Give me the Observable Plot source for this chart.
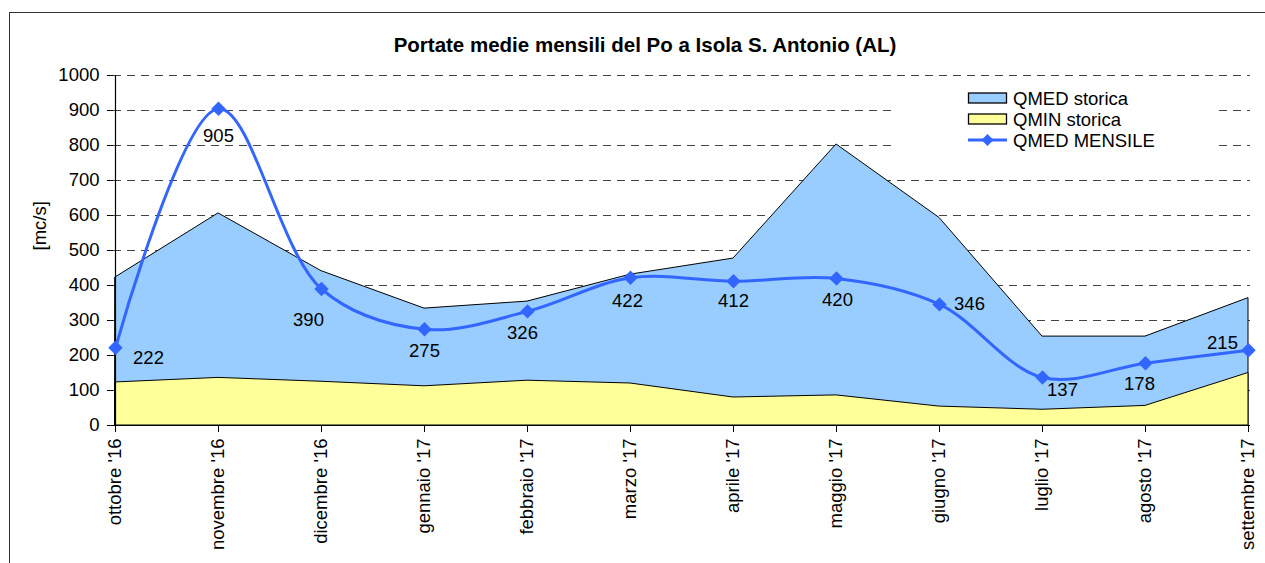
<!DOCTYPE html>
<html>
<head>
<meta charset="utf-8">
<script src="https://cdn.jsdelivr.net/npm/d3@7"></script>
<script src="https://cdn.jsdelivr.net/npm/@observablehq/plot@0.6"></script>
<style>
  body { margin: 0; background: #fff; }
  #wrap { position: relative; width: 1265px; height: 563px; overflow: hidden; font-family: "Liberation Sans", Arial, sans-serif; color: #000; }
  #frame { position: absolute; left: 9px; top: 12px; width: 1400px; height: 700px; border-left: 1.5px solid #333; border-top: 1.5px solid #333; }
  #title { position: absolute; left: 0; top: 33px; width: 1290px; text-align: center; font-weight: bold; font-size: 20.5px; line-height: 24px; }
  #chart { position: absolute; left: 0; top: 60px; }
  #legend { position: absolute; left: 897px; top: 85px; width: 316px; height: 72px; background: #fff; }
</style>
</head>
<body>
<div id="wrap">
  <div id="frame"></div>
  <div id="title">Portate medie mensili del Po a Isola S. Antonio (AL)</div>
  <div id="chart"></div>
  <div id="legend"></div>
</div>
<script>
const months = ["ottobre '16", "novembre '16", "dicembre '16", "gennaio '17", "febbraio '17", "marzo '17", "aprile '17", "maggio '17", "giugno '17", "luglio '17", "agosto '17", "settembre '17"];
const qmedStorica = [423, 606, 441, 334, 354, 431, 477, 803, 593, 254, 254, 364];
const qminStorica = [123, 136, 125, 112, 128, 120, 80, 86, 54, 45, 56, 150];
const qmedMensile = [222, 905, 390, 275, 326, 422, 412, 420, 346, 137, 178, 215];
const yTicks = [0, 100, 200, 300, 400, 500, 600, 700, 800, 900, 1000];
const seriesNames = ["QMED storica", "QMIN storica", "QMED MENSILE"];

// label placement offsets (styling, px)
const labelOffsets = [[33, 10], [0, 27], [-13, 31], [0, 22], [-5, 22], [-3, 23], [0, 20], [1, 22], [30, 0], [20, 13], [-6, 21], [-26, -7]];

const colQmed = "#99CCFF", colQmin = "#FFFF99", colLine = "#3366FF";
const fs = 18.5;

const data = months.map((m, i) => ({month: m, qmed: qmedStorica[i], qmin: qminStorica[i], mensile: qmedMensile[i], i}));

const labelMarks = data.map((d, i) => Plot.text([d], {
  x: "month", y: "mensile", text: d => String(d.mensile),
  dx: labelOffsets[i][0], dy: labelOffsets[i][1], fontSize: fs, fill: "#000"
}));

const chart = Plot.plot({
  width: 1265,
  height: 503,
  marginLeft: 113,
  marginRight: 15,
  marginTop: 15,
  marginBottom: 138,
  style: {fontFamily: "'Liberation Sans', Arial, sans-serif", fontSize: fs + "px", color: "#000", background: "transparent"},
  x: {type: "point", domain: months, padding: 0},
  y: {domain: [0, 1000]},
  marks: [
    Plot.ruleY(yTicks.filter(d => d > 0), {stroke: "#444", strokeDasharray: "8,6", strokeWidth: 1}),
    Plot.areaY(data, {x: "month", y: "qmed", fill: colQmed, stroke: "#000", strokeWidth: 1}),
    Plot.areaY(data, {x: "month", y: "qmin", fill: colQmin, stroke: "#000", strokeWidth: 1}),
    Plot.ruleY([0], {stroke: "#000", strokeWidth: 1.2}),
    Plot.ruleX([months[0]], {y1: 0, y2: 1000, stroke: "#000", strokeWidth: 1.2}),
    Plot.axisY({ticks: yTicks, tickSize: 6, tickPadding: 8, tickFormat: d => String(d), label: null, fontSize: fs}),
    Plot.axisX({tickRotate: -90, tickSize: 7, tickPadding: 6, label: null, fontSize: fs}),
    Plot.text(["[mc/s]"], {frameAnchor: "left", rotate: -90, dx: -73, fontSize: fs}),
    Plot.line(data, {x: "month", y: "mensile", stroke: colLine, strokeWidth: 3, curve: "catmull-rom"}),
    Plot.dot(data, {x: "month", y: "mensile", symbol: "diamond2", r: 6.5, fill: colLine, stroke: "none"}),
    ...labelMarks
  ]
});
document.getElementById("chart").appendChild(chart);

// legend
const ns = "http://www.w3.org/2000/svg";
const lg = document.createElementNS(ns, "svg");
lg.setAttribute("width", 316); lg.setAttribute("height", 72);
lg.style.fontFamily = "'Liberation Sans', Arial, sans-serif";
const rowY = [13, 34, 55];
seriesNames.forEach((name, i) => {
  const cy = rowY[i];
  if (i < 2) {
    const r = document.createElementNS(ns, "rect");
    r.setAttribute("x", 71.5); r.setAttribute("y", cy - 5);
    r.setAttribute("width", 38); r.setAttribute("height", 10);
    r.setAttribute("fill", i === 0 ? colQmed : colQmin);
    r.setAttribute("stroke", "#000"); r.setAttribute("stroke-width", 1.3);
    lg.appendChild(r);
  } else {
    const l = document.createElementNS(ns, "line");
    l.setAttribute("x1", 71); l.setAttribute("x2", 110); l.setAttribute("y1", cy); l.setAttribute("y2", cy);
    l.setAttribute("stroke", colLine); l.setAttribute("stroke-width", 3);
    lg.appendChild(l);
    const p = document.createElementNS(ns, "path");
    const cx = 90.5, s = 6;
    p.setAttribute("d", `M${cx},${cy - s}L${cx + s},${cy}L${cx},${cy + s}L${cx - s},${cy}Z`);
    p.setAttribute("fill", colLine);
    lg.appendChild(p);
  }
  const t = document.createElementNS(ns, "text");
  t.setAttribute("x", 116); t.setAttribute("y", cy + 6.5);
  t.setAttribute("font-size", fs);
  t.textContent = name;
  lg.appendChild(t);
});
document.getElementById("legend").appendChild(lg);
</script>
</body>
</html>
